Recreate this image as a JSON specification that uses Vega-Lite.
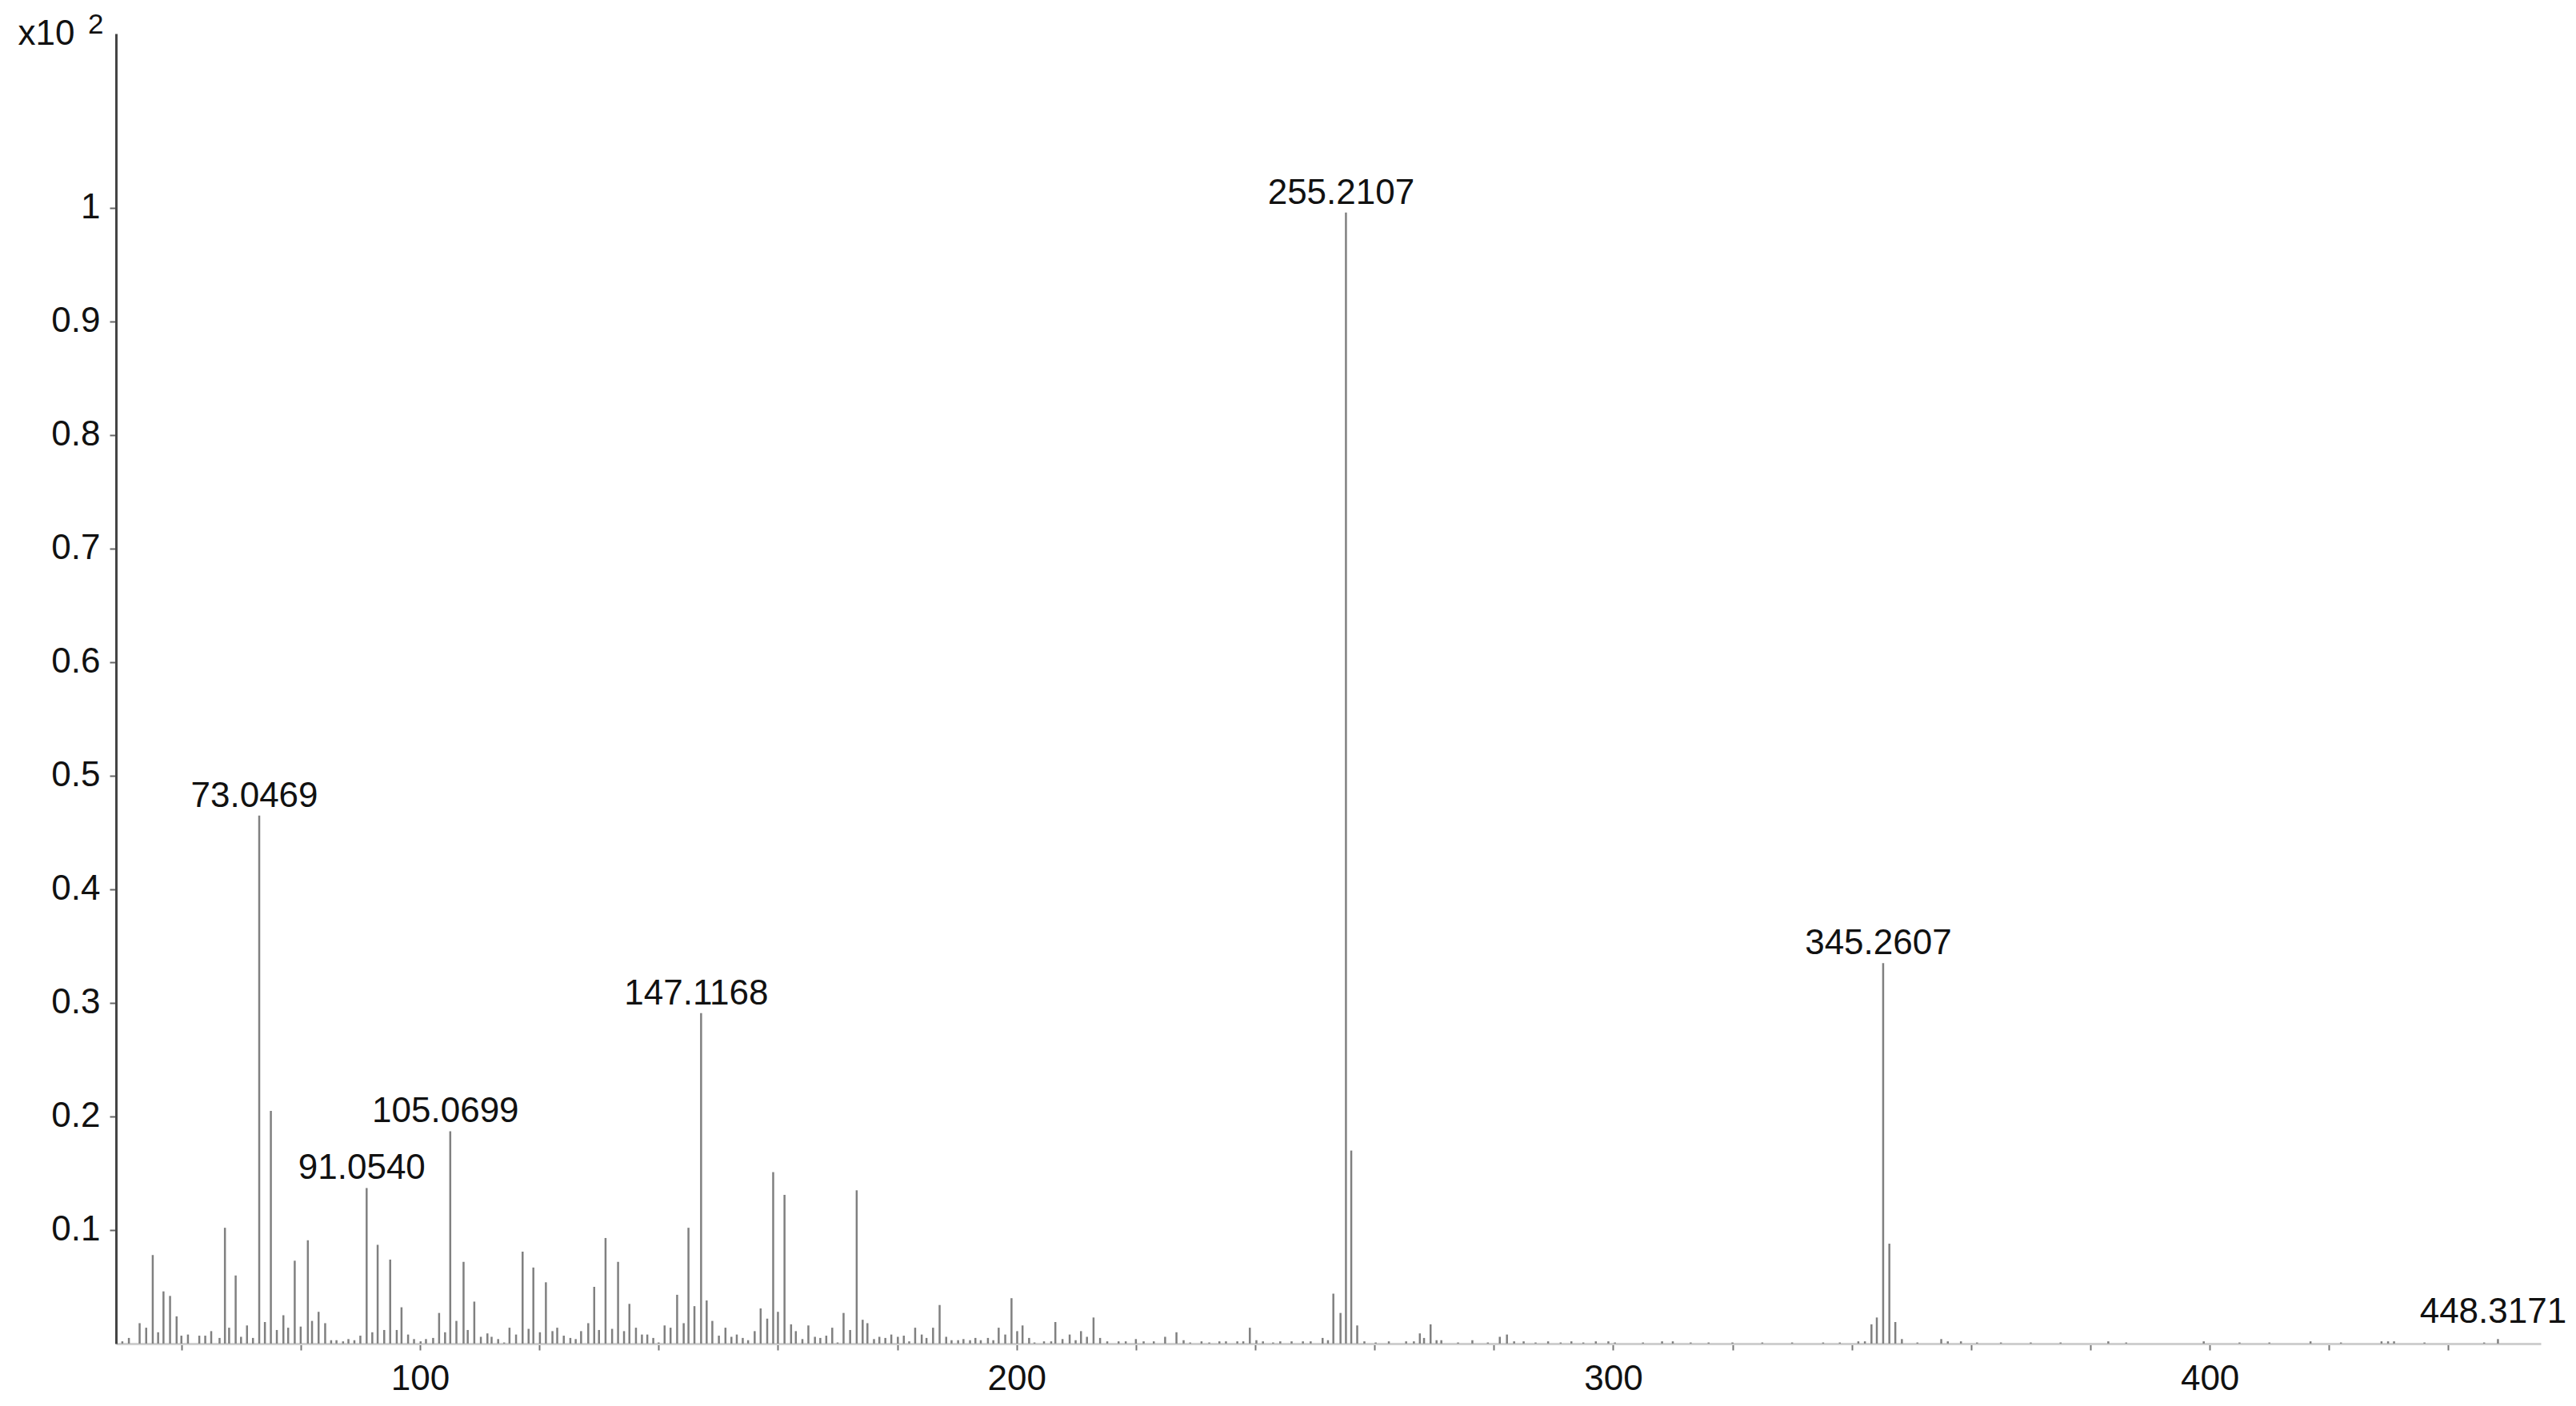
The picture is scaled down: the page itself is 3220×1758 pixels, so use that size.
{
  "$schema": "https://vega.github.io/schema/vega-lite/v6.json",
  "autosize": "none",
  "width": 3031,
  "height": 1638,
  "padding": {"left": 145, "top": 42, "right": 44, "bottom": 78},
  "background": "white",
  "config": {"font": "Liberation Sans", "view": {"stroke": null}},
  "title": {"text": "2", "anchor": "start", "frame": "group", "dx": -35, "dy": 57, "offset": 0, "baseline": "alphabetic", "fontSize": 35, "fontWeight": "normal", "color": "#111"},
  "data": {"values": [
    {"mz": 50.1, "i": 0.002}, {"mz": 51.2, "i": 0.005}, {"mz": 53.0, "i": 0.018}, {"mz": 54.1, "i": 0.014},
    {"mz": 55.2, "i": 0.078}, {"mz": 56.1, "i": 0.010}, {"mz": 57.0, "i": 0.046}, {"mz": 58.1, "i": 0.042},
    {"mz": 59.2, "i": 0.024}, {"mz": 60.0, "i": 0.007}, {"mz": 61.1, "i": 0.008}, {"mz": 63.0, "i": 0.007},
    {"mz": 64.0, "i": 0.007}, {"mz": 65.0, "i": 0.011}, {"mz": 66.4, "i": 0.005}, {"mz": 67.3, "i": 0.102},
    {"mz": 68.0, "i": 0.014}, {"mz": 69.1, "i": 0.060}, {"mz": 70.0, "i": 0.006}, {"mz": 71.0, "i": 0.016},
    {"mz": 72.0, "i": 0.005}, {"mz": 73.0469, "i": 0.465, "label": "73.0469"}, {"mz": 74.0, "i": 0.019},
    {"mz": 75.0, "i": 0.205}, {"mz": 76.0, "i": 0.012}, {"mz": 77.1, "i": 0.025}, {"mz": 77.9, "i": 0.014},
    {"mz": 79.0, "i": 0.073}, {"mz": 80.0, "i": 0.015}, {"mz": 81.2, "i": 0.091}, {"mz": 81.9, "i": 0.020},
    {"mz": 83.0, "i": 0.028}, {"mz": 84.1, "i": 0.018}, {"mz": 85.1, "i": 0.003}, {"mz": 86.0, "i": 0.003},
    {"mz": 87.1, "i": 0.002}, {"mz": 88.0, "i": 0.004}, {"mz": 89.0, "i": 0.003}, {"mz": 90.0, "i": 0.007},
    {"mz": 91.054, "i": 0.137, "label": "91.0540"}, {"mz": 92.0, "i": 0.010}, {"mz": 92.9, "i": 0.087},
    {"mz": 94.0, "i": 0.012}, {"mz": 95.0, "i": 0.074}, {"mz": 96.1, "i": 0.012}, {"mz": 96.9, "i": 0.032},
    {"mz": 98.0, "i": 0.008}, {"mz": 99.0, "i": 0.004}, {"mz": 100.1, "i": 0.002}, {"mz": 101.0, "i": 0.004},
    {"mz": 102.2, "i": 0.005}, {"mz": 103.2, "i": 0.027}, {"mz": 104.2, "i": 0.010},
    {"mz": 105.0699, "i": 0.187, "label": "105.0699"}, {"mz": 106.1, "i": 0.020}, {"mz": 107.3, "i": 0.072},
    {"mz": 108.0, "i": 0.012}, {"mz": 109.1, "i": 0.037}, {"mz": 110.2, "i": 0.006}, {"mz": 111.3, "i": 0.009},
    {"mz": 112.0, "i": 0.006}, {"mz": 113.1, "i": 0.004}, {"mz": 114.1, "i": 0.001}, {"mz": 115.0, "i": 0.014},
    {"mz": 116.1, "i": 0.008}, {"mz": 117.2, "i": 0.081}, {"mz": 118.2, "i": 0.013}, {"mz": 119.0, "i": 0.067},
    {"mz": 120.1, "i": 0.010}, {"mz": 121.1, "i": 0.054}, {"mz": 122.2, "i": 0.011}, {"mz": 123.0, "i": 0.014},
    {"mz": 124.1, "i": 0.007}, {"mz": 125.2, "i": 0.005}, {"mz": 126.1, "i": 0.004}, {"mz": 127.0, "i": 0.011},
    {"mz": 128.2, "i": 0.018}, {"mz": 129.2, "i": 0.050}, {"mz": 130.0, "i": 0.012}, {"mz": 131.1, "i": 0.093},
    {"mz": 132.2, "i": 0.013}, {"mz": 133.2, "i": 0.072}, {"mz": 134.2, "i": 0.011}, {"mz": 135.1, "i": 0.035},
    {"mz": 136.2, "i": 0.014}, {"mz": 137.2, "i": 0.008}, {"mz": 138.1, "i": 0.008}, {"mz": 139.1, "i": 0.005},
    {"mz": 140.0, "i": 0.001}, {"mz": 141.0, "i": 0.016}, {"mz": 142.0, "i": 0.014}, {"mz": 143.1, "i": 0.043},
    {"mz": 144.2, "i": 0.018}, {"mz": 145.0, "i": 0.102}, {"mz": 146.0, "i": 0.033},
    {"mz": 147.1168, "i": 0.291, "label": "147.1168"}, {"mz": 148.05, "i": 0.038}, {"mz": 149.0, "i": 0.020},
    {"mz": 150.1, "i": 0.007}, {"mz": 151.2, "i": 0.014}, {"mz": 152.2, "i": 0.006}, {"mz": 153.1, "i": 0.008},
    {"mz": 154.1, "i": 0.005}, {"mz": 155.0, "i": 0.003}, {"mz": 156.1, "i": 0.011}, {"mz": 157.1, "i": 0.031},
    {"mz": 158.2, "i": 0.022}, {"mz": 159.2, "i": 0.151}, {"mz": 160.0, "i": 0.028}, {"mz": 161.1, "i": 0.131},
    {"mz": 162.2, "i": 0.017}, {"mz": 163.0, "i": 0.011}, {"mz": 164.1, "i": 0.004}, {"mz": 165.1, "i": 0.016},
    {"mz": 166.2, "i": 0.006}, {"mz": 167.1, "i": 0.005}, {"mz": 168.1, "i": 0.007}, {"mz": 169.1, "i": 0.014},
    {"mz": 170.0, "i": 0.001}, {"mz": 171.0, "i": 0.027}, {"mz": 172.1, "i": 0.012}, {"mz": 173.2, "i": 0.135},
    {"mz": 174.2, "i": 0.021}, {"mz": 175.0, "i": 0.018}, {"mz": 176.1, "i": 0.004}, {"mz": 177.0, "i": 0.006},
    {"mz": 178.0, "i": 0.005}, {"mz": 179.0, "i": 0.008}, {"mz": 180.1, "i": 0.006}, {"mz": 181.1, "i": 0.007},
    {"mz": 182.0, "i": 0.002}, {"mz": 183.0, "i": 0.014}, {"mz": 184.1, "i": 0.008}, {"mz": 184.9, "i": 0.005},
    {"mz": 186.0, "i": 0.014}, {"mz": 187.1, "i": 0.034}, {"mz": 188.2, "i": 0.006}, {"mz": 189.1, "i": 0.003},
    {"mz": 190.2, "i": 0.003}, {"mz": 191.1, "i": 0.004}, {"mz": 192.2, "i": 0.003}, {"mz": 193.1, "i": 0.005},
    {"mz": 194.0, "i": 0.003}, {"mz": 195.2, "i": 0.005}, {"mz": 196.1, "i": 0.003}, {"mz": 197.0, "i": 0.014},
    {"mz": 198.1, "i": 0.008}, {"mz": 199.15, "i": 0.040}, {"mz": 200.1, "i": 0.011}, {"mz": 201.0, "i": 0.016},
    {"mz": 202.1, "i": 0.005}, {"mz": 203.0, "i": 0.001}, {"mz": 204.6, "i": 0.002}, {"mz": 205.8, "i": 0.002},
    {"mz": 206.5, "i": 0.019}, {"mz": 207.7, "i": 0.004}, {"mz": 208.9, "i": 0.008}, {"mz": 209.9, "i": 0.003},
    {"mz": 210.8, "i": 0.011}, {"mz": 211.8, "i": 0.006}, {"mz": 212.9, "i": 0.023}, {"mz": 214.0, "i": 0.005},
    {"mz": 215.2, "i": 0.002}, {"mz": 217.1, "i": 0.002}, {"mz": 218.3, "i": 0.002}, {"mz": 220.0, "i": 0.004},
    {"mz": 221.3, "i": 0.002}, {"mz": 223.0, "i": 0.002}, {"mz": 224.9, "i": 0.006}, {"mz": 226.8, "i": 0.010},
    {"mz": 228.0, "i": 0.003}, {"mz": 229.1, "i": 0.001}, {"mz": 231.0, "i": 0.002}, {"mz": 232.3, "i": 0.001},
    {"mz": 234.0, "i": 0.002}, {"mz": 235.1, "i": 0.002}, {"mz": 237.0, "i": 0.002}, {"mz": 238.0, "i": 0.002},
    {"mz": 239.1, "i": 0.014}, {"mz": 240.2, "i": 0.003}, {"mz": 241.3, "i": 0.002}, {"mz": 243.0, "i": 0.001},
    {"mz": 244.2, "i": 0.002}, {"mz": 246.1, "i": 0.002}, {"mz": 248.0, "i": 0.002}, {"mz": 249.3, "i": 0.002},
    {"mz": 251.3, "i": 0.005}, {"mz": 252.2, "i": 0.003}, {"mz": 253.1, "i": 0.044}, {"mz": 254.3, "i": 0.027},
    {"mz": 255.2107, "i": 0.996, "label": "255.2107"}, {"mz": 256.1, "i": 0.170}, {"mz": 257.1, "i": 0.016},
    {"mz": 258.3, "i": 0.002}, {"mz": 260.2, "i": 0.001}, {"mz": 262.4, "i": 0.002}, {"mz": 265.3, "i": 0.002},
    {"mz": 266.6, "i": 0.002}, {"mz": 267.6, "i": 0.009}, {"mz": 268.3, "i": 0.005}, {"mz": 269.4, "i": 0.017},
    {"mz": 270.4, "i": 0.003}, {"mz": 271.2, "i": 0.003}, {"mz": 274.0, "i": 0.001}, {"mz": 276.4, "i": 0.003},
    {"mz": 279.0, "i": 0.001}, {"mz": 281.0, "i": 0.006}, {"mz": 282.2, "i": 0.008}, {"mz": 283.4, "i": 0.002},
    {"mz": 285.0, "i": 0.002}, {"mz": 287.0, "i": 0.001}, {"mz": 289.1, "i": 0.002}, {"mz": 291.2, "i": 0.001},
    {"mz": 293.0, "i": 0.002}, {"mz": 295.0, "i": 0.001}, {"mz": 297.1, "i": 0.002}, {"mz": 299.2, "i": 0.002},
    {"mz": 300.3, "i": 0.001}, {"mz": 305.0, "i": 0.001}, {"mz": 308.2, "i": 0.002}, {"mz": 310.0, "i": 0.002},
    {"mz": 313.0, "i": 0.001}, {"mz": 316.0, "i": 0.001}, {"mz": 320.0, "i": 0.001}, {"mz": 325.0, "i": 0.001},
    {"mz": 330.0, "i": 0.001}, {"mz": 335.2, "i": 0.001}, {"mz": 338.0, "i": 0.001}, {"mz": 341.1, "i": 0.002},
    {"mz": 342.2, "i": 0.002}, {"mz": 343.3, "i": 0.017}, {"mz": 344.2, "i": 0.023},
    {"mz": 345.2607, "i": 0.335, "label": "345.2607"}, {"mz": 346.3, "i": 0.088}, {"mz": 347.3, "i": 0.019},
    {"mz": 348.4, "i": 0.004}, {"mz": 351.0, "i": 0.001}, {"mz": 355.0, "i": 0.004}, {"mz": 356.1, "i": 0.002},
    {"mz": 358.3, "i": 0.002}, {"mz": 361.0, "i": 0.001}, {"mz": 365.0, "i": 0.001}, {"mz": 370.0, "i": 0.001},
    {"mz": 375.0, "i": 0.001}, {"mz": 383.0, "i": 0.002}, {"mz": 386.0, "i": 0.001}, {"mz": 399.0, "i": 0.002},
    {"mz": 405.0, "i": 0.001}, {"mz": 410.0, "i": 0.001}, {"mz": 416.9, "i": 0.002}, {"mz": 422.0, "i": 0.001},
    {"mz": 428.8, "i": 0.002}, {"mz": 429.9, "i": 0.002}, {"mz": 430.9, "i": 0.002}, {"mz": 436.0, "i": 0.001},
    {"mz": 446.0, "i": 0.001}, {"mz": 448.3171, "i": 0.004, "label": "448.3171"}
  ]},
  "encoding": {
    "x": {
      "field": "mz", "type": "quantitative",
      "scale": {"domain": [49.04, 455.5], "nice": false, "zero": false},
      "axis": {
        "title": null,
        "grid": false,
        "values": [60, 80, 100, 120, 140, 160, 180, 200, 220, 240, 260, 280, 300, 320, 340, 360, 380, 400, 420, 440],
        "labelExpr": "datum.value % 100 === 0 ? datum.label : ''",
        "format": "d",
        "domainColor": "#cfcfcf", "domainWidth": 3,
        "tickColor": "#777", "tickWidth": 2, "tickSize": 8,
        "labelPadding": 14, "labelFontSize": 44, "labelColor": "#111", "labelFont": "Liberation Sans"
      }
    },
    "y": {
      "field": "i", "type": "quantitative",
      "scale": {"domain": [0, 1.1535], "nice": false},
      "axis": {
        "title": "x10",
        "titleAngle": 0, "titleX": -123, "titleY": 13, "titleAlign": "left", "titleBaseline": "alphabetic",
        "titleFontSize": 44, "titleFontWeight": "normal", "titleColor": "#111", "titleFont": "Liberation Sans",
        "grid": false,
        "values": [0.1, 0.2, 0.3, 0.4, 0.5, 0.6, 0.7, 0.8, 0.9, 1],
        "labelExpr": "datum.value >= 1 ? '1' : format(datum.value, '.1f')",
        "domainColor": "#444", "domainWidth": 3,
        "tickColor": "#666", "tickWidth": 2, "tickSize": 8,
        "labelPadding": 12, "labelFontSize": 44, "labelColor": "#111", "labelFont": "Liberation Sans"
      }
    }
  },
  "layer": [
    {
      "mark": {"type": "rule", "color": "#808080", "strokeWidth": 2.5},
      "encoding": {"y2": {"datum": 0}}
    },
    {
      "transform": [{"filter": "datum.label && datum.mz < 440"}],
      "mark": {"type": "text", "fontSize": 44, "font": "Liberation Sans", "color": "#111", "align": "center", "baseline": "alphabetic", "dx": -6, "dy": -11},
      "encoding": {"text": {"field": "label"}}
    },
    {
      "transform": [{"filter": "datum.label && datum.mz > 440"}],
      "mark": {"type": "text", "fontSize": 44, "font": "Liberation Sans", "color": "#111", "align": "center", "baseline": "alphabetic", "dx": -6, "dy": -20},
      "encoding": {"text": {"field": "label"}}
    }
  ]
}
